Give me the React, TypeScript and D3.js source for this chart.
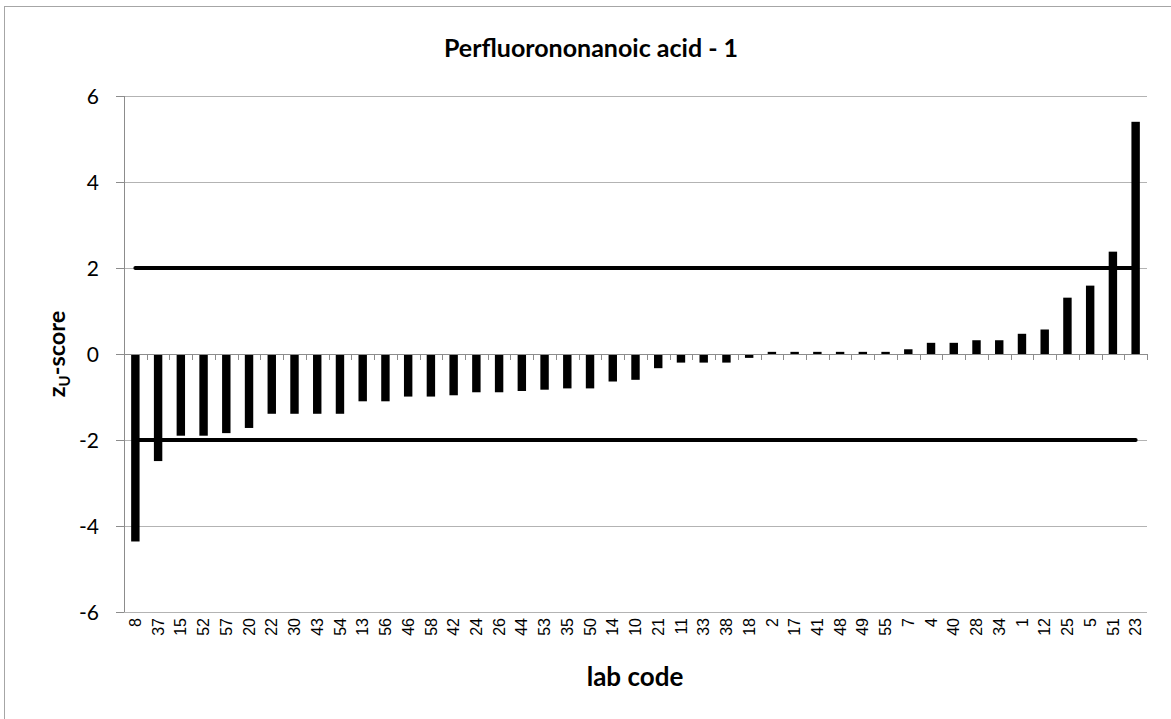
import React from "react";
import * as d3 from "d3";

const title = "Perfluorononanoic acid - 1";
const labCodes = ["8","37","15","52","57","20","22","30","43","54","13","56","46","58","42","24","26","44","53","35","50","14","10","21","11","33","38","18","2","17","41","48","49","55","7","4","40","28","34","1","12","25","5","51","23"];
const zScores = [-4.36,-2.49,-1.9,-1.9,-1.84,-1.72,-1.39,-1.39,-1.39,-1.39,-1.1,-1.1,-0.99,-0.99,-0.96,-0.89,-0.89,-0.86,-0.83,-0.8,-0.8,-0.64,-0.6,-0.33,-0.2,-0.2,-0.2,-0.09,0.05,0.05,0.05,0.05,0.05,0.05,0.11,0.26,0.26,0.32,0.32,0.47,0.57,1.31,1.59,2.38,5.4];
const limits = [2, -2];
const yTicks = [-6, -4, -2, 0, 2, 4, 6];

const W = 1171, H = 719;
const plot = { left: 124, right: 1147, top: 96, bottom: 612 };
const calibri = "Lato, 'Open Sans', sans-serif";

export default function App() {
  const x = d3.scaleBand<string>().domain(labCodes).range([plot.left, plot.right]).padding(0);
  const y = d3.scaleLinear().domain([-6, 6]).range([plot.bottom, plot.top]);
  const bw = x.bandwidth();
  const barW = bw / 2.7;
  const y0 = y(0);
  const boundaries = labCodes.map((c) => x(c)!).concat([x(labCodes[labCodes.length - 1])! + bw]);
  const firstC = x(labCodes[0])! + bw / 2;
  const lastC = x(labCodes[labCodes.length - 1])! + bw / 2;

  return (
    <svg width={W} height={H} style={{ position: "absolute", left: 0, top: 0, background: "#fff" }}>
      <rect x={4.5} y={6.5} width={W + 10} height={H + 10} fill="#fff" stroke="#a6a6a6" strokeWidth={1} />
      <text x={591} y={57} textAnchor="middle" fontFamily={calibri} fontWeight="bold" fontSize={25} fill="#000">{title}</text>
      {yTicks.map((t) => (
        <g key={t}>
          {t !== 0 && <line x1={plot.left} x2={plot.right} y1={Math.round(y(t)) + 0.5} y2={Math.round(y(t)) + 0.5} stroke="#b3b3b3" strokeWidth={1} />}
          <line x1={plot.left - 8} x2={plot.left} y1={Math.round(y(t)) + 0.5} y2={Math.round(y(t)) + 0.5} stroke="#8c8c8c" strokeWidth={1} />
          <text x={99} y={y(t)} dy="0.36em" textAnchor="end" fontFamily={calibri} fontSize={21} fill="#000">{t}</text>
        </g>
      ))}
      <line x1={plot.left + 0.5} x2={plot.left + 0.5} y1={plot.top} y2={plot.bottom} stroke="#8c8c8c" strokeWidth={1} />
      {labCodes.map((c, i) => {
        const v = zScores[i];
        const yt = Math.min(y(v), y0);
        const h = Math.abs(y(v) - y0);
        return <rect key={c} x={x(c)! + (bw - barW) / 2} y={yt} width={barW} height={h} fill="#000" />;
      })}
      <line x1={plot.left} x2={plot.right} y1={Math.round(y0) + 0.5} y2={Math.round(y0) + 0.5} stroke="#8c8c8c" strokeWidth={1} />
      {boundaries.map((bx, i) => (
        <line key={i} x1={Math.round(bx) + 0.5} x2={Math.round(bx) + 0.5} y1={y0} y2={y0 + 6} stroke="#8c8c8c" strokeWidth={1} />
      ))}
      {limits.map((l) => (
        <line key={l} x1={firstC} x2={lastC} y1={y(l)} y2={y(l)} stroke="#000" strokeWidth={4} strokeLinecap="round" />
      ))}
      {labCodes.map((c) => (
        <text key={c} transform={`translate(${x(c)! + bw / 2},618) rotate(-90)`} dy="0.35em" textAnchor="end" fontFamily="'Liberation Sans', Arial, sans-serif" fontSize={16} fill="#000">{c}</text>
      ))}
      <text transform={`translate(65,354) rotate(-90)`} textAnchor="middle" fontFamily={calibri} fontWeight="bold" fontSize={23.5} fill="#000">
        z<tspan fontSize={15} dy={5}>U</tspan><tspan dy={-5}>-score</tspan>
      </text>
      <text x={635} y={686} textAnchor="middle" fontFamily={calibri} fontWeight="bold" fontSize={26} fill="#000">lab code</text>
    </svg>
  );
}
